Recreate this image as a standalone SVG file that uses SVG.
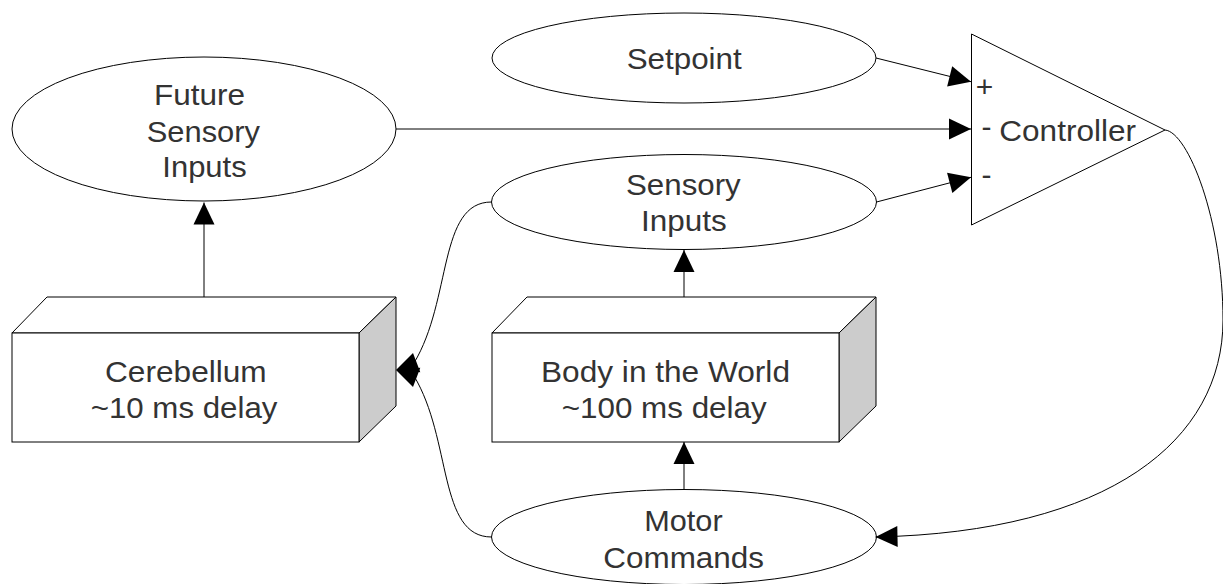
<svg xmlns="http://www.w3.org/2000/svg" width="1223" height="584" viewBox="0 0 1223 584">
  <style>
    .shape { fill: #ffffff; stroke: #000000; stroke-width: 1; }
    .side { fill: #cccccc; stroke: #000000; stroke-width: 1; }
    .conn { fill: none; stroke: #000000; stroke-width: 1; }
    .head { fill: #000000; stroke: none; }
    .lbl { font-family: "Liberation Sans", Arial, sans-serif; font-size: 30px; fill: #333333; }
  </style>
  <defs>
    <marker id="arrow" markerUnits="userSpaceOnUse" markerWidth="23" markerHeight="21" refX="22" refY="10.5" orient="auto" overflow="visible">
      <path d="M0,0 L22,10.5 L0,21 Z" fill="#000000"/>
    </marker>
  </defs>

  <rect width="1223" height="584" fill="#ffffff"/>

  <!-- Setpoint -->
  <g id="setpoint">
    <ellipse class="shape" cx="684" cy="58" rx="192" ry="45"/>
    <text class="lbl" x="626.7" y="69" textLength="115" lengthAdjust="spacingAndGlyphs">Setpoint</text>
  </g>

  <!-- Future sensory inputs -->
  <g id="future-sensory-inputs">
    <ellipse class="shape" cx="204" cy="129" rx="192" ry="72"/>
    <text class="lbl" x="154" y="105" textLength="91" lengthAdjust="spacingAndGlyphs">Future</text>
    <text class="lbl" x="146.7" y="141.7" textLength="113.3" lengthAdjust="spacingAndGlyphs">Sensory</text>
    <text class="lbl" x="162.3" y="176.7" textLength="84.4" lengthAdjust="spacingAndGlyphs">Inputs</text>
  </g>

  <!-- Sensory inputs -->
  <g id="sensory-inputs">
    <ellipse class="shape" cx="684" cy="202" rx="192.5" ry="47.5"/>
    <text class="lbl" x="626" y="195" textLength="114.7" lengthAdjust="spacingAndGlyphs">Sensory</text>
    <text class="lbl" x="641" y="231" textLength="85.7" lengthAdjust="spacingAndGlyphs">Inputs</text>
  </g>

  <!-- Motor commands -->
  <g id="motor-commands">
    <ellipse class="shape" cx="684" cy="537" rx="192.5" ry="47.5"/>
    <text class="lbl" x="644.3" y="530.7" textLength="78.3" lengthAdjust="spacingAndGlyphs">Motor</text>
    <text class="lbl" x="603.3" y="567.7" textLength="160.7" lengthAdjust="spacingAndGlyphs">Commands</text>
  </g>

  <!-- Cerebellum block -->
  <g id="cerebellum">
    <polygon class="shape" points="12,333 47,297 396,297 359,333"/>
    <polygon class="side" points="359,333 396,297 396,406 359,442"/>
    <rect class="shape" x="12" y="333" width="347" height="109"/>
    <text class="lbl" x="105" y="381.7" textLength="161.7" lengthAdjust="spacingAndGlyphs">Cerebellum</text>
    <text class="lbl" x="90.7" y="418.3" textLength="186.7" lengthAdjust="spacingAndGlyphs">~10 ms delay</text>
  </g>

  <!-- Body in the world block -->
  <g id="body-in-world">
    <polygon class="shape" points="492,333 527,297 876,297 839,333"/>
    <polygon class="side" points="839,333 876,297 876,406 839,442"/>
    <rect class="shape" x="492" y="333" width="347" height="109"/>
    <text class="lbl" x="541" y="381.7" textLength="249" lengthAdjust="spacingAndGlyphs">Body in the World</text>
    <text class="lbl" x="561.7" y="418.3" textLength="205" lengthAdjust="spacingAndGlyphs">~100 ms delay</text>
  </g>

  <!-- Controller -->
  <g id="controller">
    <polygon class="shape" points="971.5,34 971.5,225 1165,130"/>
    <text class="lbl" x="975.8" y="96.6">+</text>
    <text class="lbl" x="981.4" y="136.5">-</text>
    <text class="lbl" x="999.3" y="140.7" textLength="136.7" lengthAdjust="spacingAndGlyphs">Controller</text>
    <text class="lbl" x="981.4" y="184.9">-</text>
  </g>

  <!-- Connectors -->
  <g id="connectors">
    <line class="conn" x1="876" y1="58" x2="971" y2="81.7" marker-end="url(#arrow)"/>
    <line class="conn" x1="396" y1="129" x2="971" y2="129" marker-end="url(#arrow)"/>
    <line class="conn" x1="876.5" y1="202" x2="971" y2="177.3" marker-end="url(#arrow)"/>
    <line class="conn" x1="204" y1="297" x2="204" y2="202.5" marker-end="url(#arrow)"/>
    <line class="conn" x1="684" y1="297" x2="684" y2="250" marker-end="url(#arrow)"/>
    <line class="conn" x1="684" y1="489.5" x2="684" y2="442" marker-end="url(#arrow)"/>
    <path class="conn" d="M1165,130 C1188,132 1223,220 1223,320 C1223,440 1110,532 875.5,537" marker-end="url(#arrow)"/>
    <!-- two feeds converging on the cerebellum side face -->
    <path class="conn" d="M491.5,202 C438,202 452,300 414,363"/>
    <path class="conn" d="M491.5,537 C438,537 452,439 414,376"/>
    <polygon class="head" points="396,370 413,353 420.3,372.3"/>
    <polygon class="head" points="396,370 413,387 420.3,367.7"/>
  </g>
</svg>
